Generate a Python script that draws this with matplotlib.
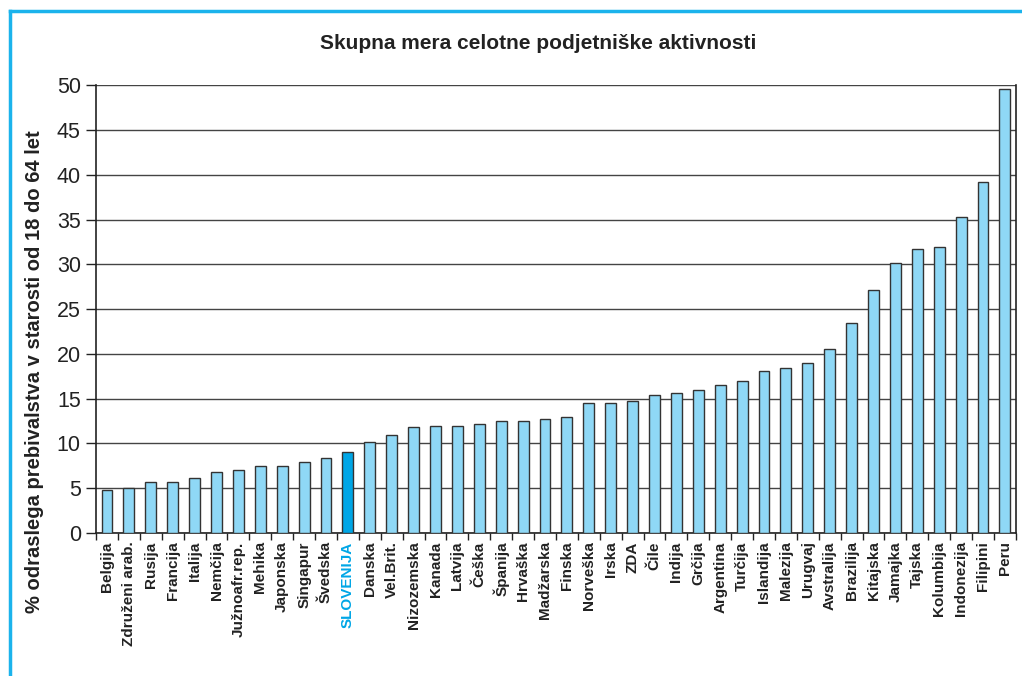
import matplotlib
matplotlib.use("Agg")
import matplotlib.pyplot as plt
import numpy as np

# podatki
drzave = ["Belgija", "Združeni arab.", "Rusija", "Francija", "Italija", "Nemčija",
          "Južnoafr.rep.", "Mehika", "Japonska", "Singapur", "Švedska", "SLOVENIJA",
          "Danska", "Vel.Brit.", "Nizozemska", "Kanada", "Latvija", "Češka", "Španija",
          "Hrvaška", "Madžarska", "Finska", "Norveška", "Irska", "ZDA", "Čile", "Indija",
          "Grčija", "Argentina", "Turčija", "Islandija", "Malezija", "Urugvaj",
          "Avstralija", "Brazilija", "Kitajska", "Jamajka", "Tajska", "Kolumbija",
          "Indonezija", "Filipini", "Peru"]
vrednosti = [4.8, 5.0, 5.7, 5.7, 6.1, 6.8,
             7.0, 7.5, 7.5, 7.9, 8.4, 9.0,
             10.2, 10.9, 11.8, 12.0, 12.0, 12.2, 12.5,
             12.5, 12.7, 12.9, 14.5, 14.5, 14.7, 15.4, 15.6,
             16.0, 16.5, 17.0, 18.1, 18.4, 19.0,
             20.6, 23.5, 27.1, 30.1, 31.7, 31.9,
             35.3, 39.2, 49.6]
y_ticks = list(range(0, 55, 5))

plt.rcParams['font.family'] = ['Liberation Sans', 'DejaVu Sans']

fig = plt.figure(figsize=(10.22, 6.76), dpi=100)
ax = fig.add_axes([0.094, 0.2115, 0.9, 0.6625])

x = np.arange(len(drzave))
barve = ['#00a6e6' if d == "SLOVENIJA" else '#8fd8f6' for d in drzave]
ax.bar(x, vrednosti, width=0.5, color=barve, edgecolor='#333333', linewidth=1.0, zorder=3)

ax.set_xlim(-0.5, len(drzave) - 0.5)
ax.set_ylim(0, 50)
ax.set_yticks(y_ticks)
ax.yaxis.grid(True, color='#444444', linewidth=1.0, zorder=0)
ax.tick_params(axis='y', labelsize=15.5, length=7, width=1, color='#222222', pad=4,
               labelcolor='#222222')

# oznake drzav pod stolpci, kljukice med stolpci
ax.set_xticks(x)
ax.set_xticklabels(drzave, rotation=90, fontsize=11, fontweight='bold', color='#222222')
ax.tick_params(axis='x', length=0, pad=6)
ax.set_xticks(np.arange(-0.5, len(drzave), 1), minor=True)
ax.tick_params(axis='x', which='minor', length=5, width=1, color='#222222')
for lbl in ax.get_xticklabels():
    if lbl.get_text() == "SLOVENIJA":
        lbl.set_color('#00a6e6')

for s in ['left', 'bottom', 'right']:
    ax.spines[s].set_color('#222222')
    ax.spines[s].set_linewidth(1.2)
ax.spines['top'].set_visible(False)

ax.set_ylabel("% odraslega prebivalstva v starosti od 18 do 64 let",
              fontsize=14.5, fontweight='bold', color='#222222')
ax.yaxis.set_label_coords(-0.057, 0.36)
fig.text(0.527, 0.936, "Skupna mera celotne podjetniške aktivnosti",
         ha='center', va='center', fontsize=15, fontweight='bold', color='#222222')

# modri okvir
fig.add_artist(plt.Line2D([0.0098, 0.0098], [0, 0.984], color='#1bb3ec', linewidth=2.5,
                          transform=fig.transFigure))
fig.add_artist(plt.Line2D([0.0098, 1.0], [0.984, 0.984], color='#1bb3ec', linewidth=2.5,
                          transform=fig.transFigure))

fig.savefig("out.png", dpi=100)
